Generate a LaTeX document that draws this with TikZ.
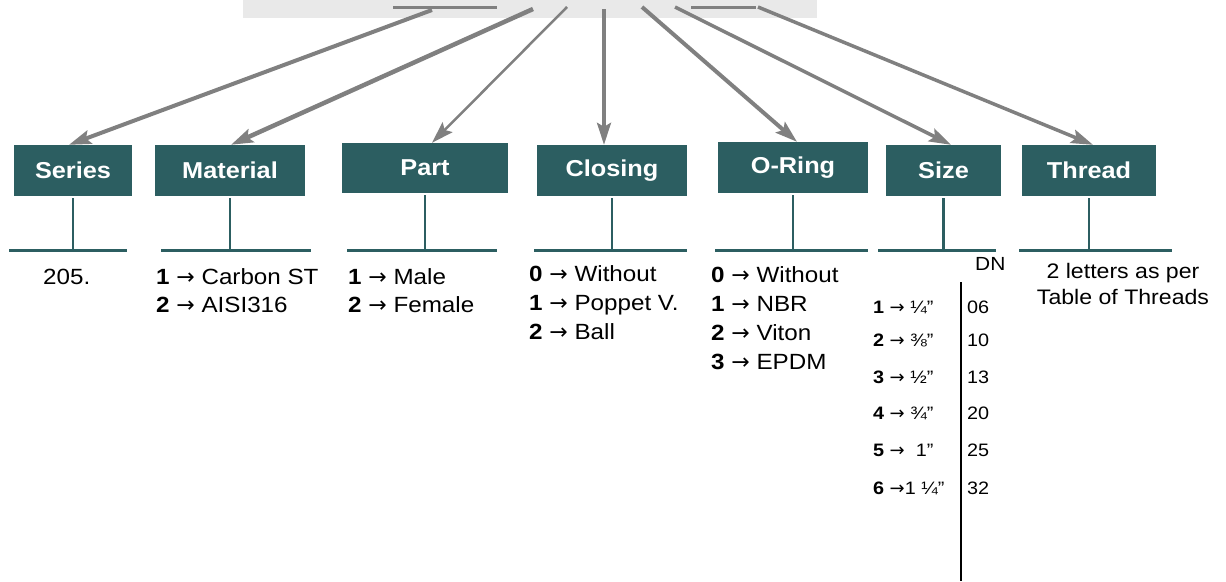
\documentclass[tikz,border=0pt]{standalone}
\usepackage{fontspec}
\setmainfont{Liberation Sans}[FakeStretch=1.1]
\newfontfamily\fonteseta{DejaVu Sans}
\newcommand{\sa}{{\fonteseta →}}
\usetikzlibrary{arrows.meta,positioning}
\definecolor{corteal}{RGB}{44,94,97}
\definecolor{corseta}{RGB}{128,128,128}
\definecolor{corfundo}{RGB}{233,233,233}

\begin{document}
\begin{tikzpicture}[x=1pt, y=-1pt,
  caixa/.style={rectangle, fill=corteal, text=white, inner sep=0pt,
                minimum height=51pt, font=\fontsize{23}{28}\selectfont\bfseries},
  seta/.style={-{Stealth[length=22pt, width=14pt, inset=4pt]}, color=corseta},
  haste/.style={draw=corteal, line width=2.5pt},
  barra/.style={draw=corteal, line width=3pt},
  lista/.style={anchor=base west, align=left, inner sep=0pt,
                font=\fontsize{22}{28.7}\selectfont},
  tabela/.style={anchor=base west, inner sep=0pt}
]
  \useasboundingbox (0,0) rectangle (1226,581);

  % faixa de cima
  \fill[corfundo] (243,0) rectangle (817,17.5);
  \draw[corseta, line width=3pt] (393,7) -- (497,7);
  \draw[corseta, line width=3pt] (691,7) -- (756,7);
  \coordinate (oseries) at (432,10);
  \coordinate (omaterial) at (533,9);
  \coordinate (opart) at (567,7);
  \coordinate (oclosing) at (604,9);
  \coordinate (ooring) at (642,7);
  \coordinate (osize) at (675,7);
  \coordinate (othread) at (758,7);

  % caixas
  \node[caixa, minimum width=118pt] (series) at (73,170.5) {Series};
  \node[caixa, minimum width=150pt] (material) at (230,170.5) {Material};
  \node[caixa, minimum width=166pt, minimum height=50pt] (part) at (425,168) {Part};
  \node[caixa, minimum width=150pt] (closing) at (612,170.5) {Closing};
  \node[caixa, minimum width=150pt] (oring) at (793,167.5) {O-Ring};
  \node[caixa, minimum width=115pt] (size) at (943.5,170.5) {Size};
  \node[caixa, minimum width=134pt] (thread) at (1089,170.5) {Thread};

  \draw[seta, line width=4pt] (oseries) -- ([xshift=-4pt]series.north);
  \draw[seta, line width=4.5pt] (omaterial) -- ([xshift=1pt]material.north);
  \draw[seta, line width=2.5pt] (opart) -- ([xshift=7pt]part.north);
  \draw[seta, line width=3.3pt] (oclosing) -- ([xshift=-8pt]closing.north);
  \draw[seta, line width=4pt] (ooring) -- ([xshift=4pt]oring.north);
  \draw[seta, line width=3.5pt] (osize) -- ([xshift=7.5pt]size.north);
  \draw[seta, line width=3.5pt] (othread) -- ([xshift=4pt]thread.north);

  % hastes e barras
  \coordinate (base) at (0,250);
  \foreach \n/\l/\r in {series/64/54, material/69/81, part/78/72, closing/78/75,
                        oring/78/75, size/65.5/52.5, thread/70/83} {
    \draw[haste] ([yshift=-2pt]\n.south) -- (\n.south |- base);
    \draw[barra] (\n.south |- base) ++(-\l,0) -- ++(\l+\r,0);
  }

  % codigos (base = ultima linha)
  \node[lista] (lseries) at (43,284) {205.};
  \node[lista] (lmaterial) at (156,312.7) {\textbf{1} \sa{} Carbon ST\\\textbf{2} \sa{} AISI316};
  \node[lista] (lpart) at (348,312.7) {\textbf{1} \sa{} Male\\\textbf{2} \sa{} Female};
  \node[lista, font=\fontsize{22}{29}\selectfont] (lclosing) at (529,339)
    {\textbf{0} \sa{} Without\\\textbf{1} \sa{} Poppet V.\\\textbf{2} \sa{} Ball};
  \node[lista] (loring) at (711,369)
    {\textbf{0} \sa{} Without\\\textbf{1} \sa{} NBR\\\textbf{2} \sa{} Viton\\\textbf{3} \sa{} EPDM};

  % tabela de bitolas
  \node[tabela, font=\fontsize{19}{22}\selectfont] (dn) at (975,270) {DN};
  \draw[black, line width=2pt] (961,282) -- (961,581);
  \foreach \y/\txt/\num [count=\i] in {313/{\textbf{1} \sa{} ¼”}/06, 346/{\textbf{2} \sa{} ⅜”}/10,
                                       383/{\textbf{3} \sa{} ½”}/13, 419/{\textbf{4} \sa{} ¾”}/20,
                                       456/{\textbf{5} \sa{}\ \ 1”}/25, 494/{\textbf{6} \sa{}1 ¼”}/32} {
    \node[tabela, font=\fontsize{18}{22}\selectfont] (esq\i) at (873,\y) {\txt};
    \node[tabela, font=\fontsize{18}{22}\selectfont] (num\i) at (967,\y) {\num};
  }

  \node[anchor=base, align=center, inner sep=0pt, font=\fontsize{21}{26}\selectfont]
    (lthread) at (1123,304) {2 letters as per\\Table of Threads};
\end{tikzpicture}
\end{document}
